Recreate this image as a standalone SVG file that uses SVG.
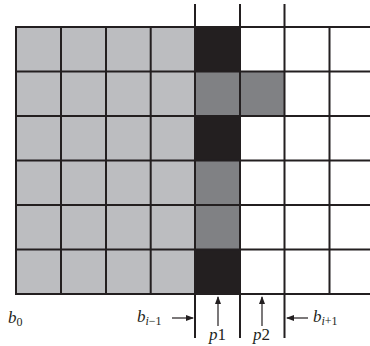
<svg xmlns="http://www.w3.org/2000/svg" width="370" height="346" viewBox="0 0 370 346">
<style>
.lg{fill:#bcbdc0}.dg{fill:#808184}.bk{fill:#231f20}
.ln{stroke:#231f20;stroke-width:2;fill:none}
.ar{stroke:#231f20;stroke-width:1.2;fill:none}
.t{font-family:"Liberation Serif",serif;font-style:italic;font-size:17px;fill:#231f20}
.s{font-style:normal;font-size:12px}
.i{font-style:italic}
</style>
<defs>
<marker id="ah" markerWidth="8" markerHeight="6" refX="7" refY="3" orient="auto" markerUnits="userSpaceOnUse">
<path d="M0,0 L8,3 L0,6 Z" fill="#231f20"/>
</marker>
</defs>
<rect width="370" height="346" fill="#fff"/>
<g id="cells">
<rect class="lg" x="16" y="27" width="179" height="267"/>
<rect class="bk" x="195" y="27" width="45" height="44.5"/>
<rect class="dg" x="195" y="71.5" width="45" height="44.5"/>
<rect class="dg" x="240" y="71.5" width="44" height="44.5"/>
<rect class="bk" x="195" y="116" width="45" height="44.5"/>
<rect class="dg" x="195" y="160.5" width="45" height="89"/>
<rect class="bk" x="195" y="249.5" width="45" height="44.5"/>
</g>
<g id="grid">
<path class="ln" d="M16,27H370M16,71.5H370M16,116H370M16,160.5H370M16,205H370M16,249.5H370M16,294H370"/>
<path class="ln" d="M16,26V295M61,26V295M106,26V295M150.7,26V295M329.5,26V295"/>
<path class="ln" d="M195,4V338M240,4V338M284.5,4V338"/>
</g>
<g id="connectors">
<line class="ar" x1="172" y1="318" x2="193" y2="318" marker-end="url(#ah)"/>
<line class="ar" x1="218" y1="326" x2="218" y2="297" marker-end="url(#ah)"/>
<line class="ar" x1="262" y1="326" x2="262" y2="297" marker-end="url(#ah)"/>
<line class="ar" x1="308" y1="318" x2="287" y2="318" marker-end="url(#ah)"/>
</g>
<g id="labels">
<text class="t" x="8" y="323">b<tspan class="s" dy="3">0</tspan></text>
<text class="t" x="137" y="322">b<tspan class="s" dy="3"><tspan class="i">i</tspan>−1</tspan></text>
<text class="t" x="313" y="322">b<tspan class="s" dy="3"><tspan class="i">i</tspan>+1</tspan></text>
<text class="t" x="209" y="340">p<tspan font-style="normal">1</tspan></text>
<text class="t" x="253" y="340">p<tspan font-style="normal">2</tspan></text>
</g>
</svg>
